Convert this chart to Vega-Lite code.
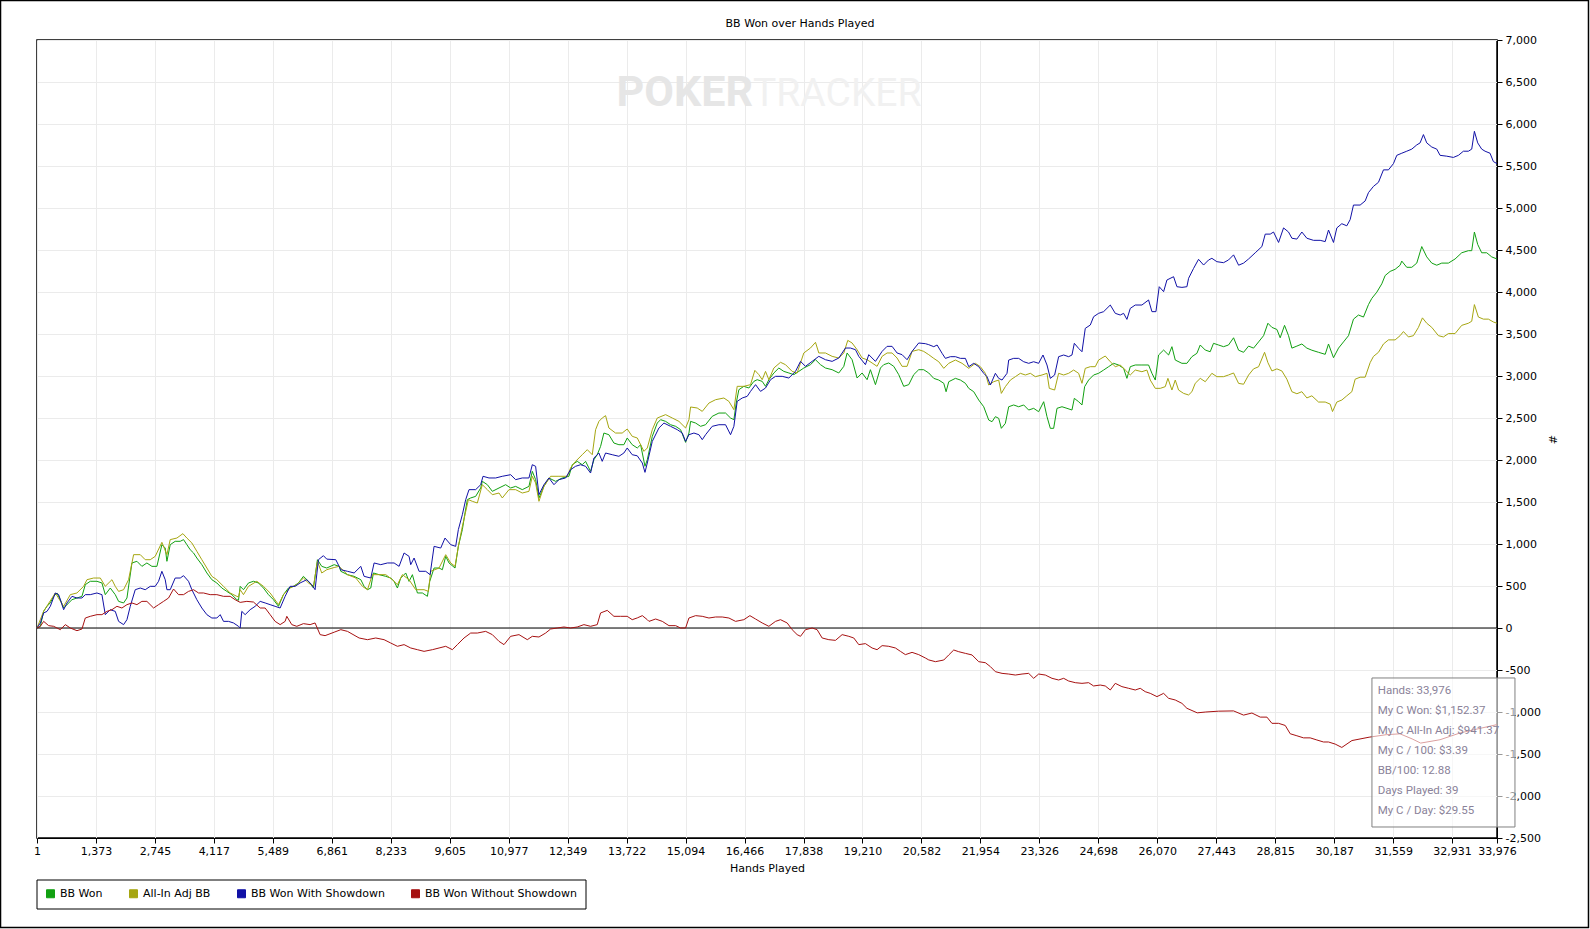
{
  "$schema": "https://vega.github.io/schema/vega-lite/v6.json",
  "width": 1460,
  "height": 798,
  "autosize": {"type": "none"},
  "padding": {"left": 37, "top": 40, "right": 93, "bottom": 91},
  "background": "white",
  "config": {
    "view": {"stroke": "black", "strokeWidth": 1.5},
    "axis": {"gridColor": "#ebebeb", "gridWidth": 1, "domainColor": "black", "tickColor": "black", "tickSize": 5, "labelFont": "DejaVu Sans", "labelFontSize": 11, "labelColor": "black", "titleFont": "DejaVu Sans", "titleFontSize": 11, "titleFontWeight": "normal", "titleColor": "black", "labelFlush": false, "labelOverlap": false}
  },
  "datasets": {
    "won": [
      {"hand":1,"bb":0},{"hand":79,"bb":20},{"hand":156,"bb":200},{"hand":234,"bb":258},{"hand":311,"bb":300},{"hand":389,"bb":377},{"hand":466,"bb":417},{"hand":544,"bb":337},{"hand":621,"bb":238},{"hand":699,"bb":278},{"hand":815,"bb":337},{"hand":931,"bb":357},{"hand":1047,"bb":377},{"hand":1125,"bb":516},{"hand":1241,"bb":556},{"hand":1396,"bb":556},{"hand":1512,"bb":536},{"hand":1590,"bb":397},{"hand":1706,"bb":476},{"hand":1822,"bb":397},{"hand":1900,"bb":317},{"hand":2016,"bb":298},{"hand":2094,"bb":357},{"hand":2210,"bb":774},{"hand":2326,"bb":794},{"hand":2442,"bb":734},{"hand":2558,"bb":774},{"hand":2675,"bb":734},{"hand":2791,"bb":734},{"hand":2907,"bb":992},{"hand":2985,"bb":952},{"hand":3024,"bb":794},{"hand":3101,"bb":992},{"hand":3217,"bb":1032},{"hand":3334,"bb":1032},{"hand":3411,"bb":1052},{"hand":3489,"bb":992},{"hand":3566,"bb":932},{"hand":3644,"bb":893},{"hand":3721,"bb":833},{"hand":3837,"bb":754},{"hand":3954,"bb":655},{"hand":4070,"bb":575},{"hand":4186,"bb":536},{"hand":4302,"bb":476},{"hand":4419,"bb":436},{"hand":4535,"bb":397},{"hand":4651,"bb":337},{"hand":4690,"bb":330},{"hand":4729,"bb":496},{"hand":4806,"bb":456},{"hand":4922,"bb":536},{"hand":5039,"bb":556},{"hand":5155,"bb":536},{"hand":5271,"bb":476},{"hand":5387,"bb":397},{"hand":5504,"bb":337},{"hand":5620,"bb":258},{"hand":5736,"bb":397},{"hand":5852,"bb":476},{"hand":5969,"bb":496},{"hand":6085,"bb":536},{"hand":6201,"bb":615},{"hand":6317,"bb":556},{"hand":6434,"bb":476},{"hand":6527,"bb":813},{"hand":6627,"bb":734},{"hand":6744,"bb":714},
      {"hand":6916,"bb":754},{"hand":7032,"bb":734},{"hand":7071,"bb":675},{"hand":7226,"bb":635},{"hand":7381,"bb":615},{"hand":7536,"bb":575},{"hand":7613,"bb":496},{"hand":7691,"bb":456},{"hand":7768,"bb":476},{"hand":7830,"bb":655},{"hand":7962,"bb":635},{"hand":8117,"bb":615},{"hand":8233,"bb":595},{"hand":8311,"bb":555},{"hand":8388,"bb":476},{"hand":8466,"bb":595},{"hand":8582,"bb":655},{"hand":8659,"bb":555},{"hand":8737,"bb":635},{"hand":8853,"bb":417},{"hand":8969,"bb":417},{"hand":9086,"bb":377},{"hand":9140,"bb":555},{"hand":9241,"bb":714},{"hand":9357,"bb":714},{"hand":9434,"bb":694},{"hand":9512,"bb":853},{"hand":9589,"bb":774},{"hand":9729,"bb":714},{"hand":9806,"bb":972},{"hand":9899,"bb":1171},{"hand":9961,"bb":1369},{"hand":10016,"bb":1528},{"hand":10093,"bb":1548},{"hand":10209,"bb":1567},{"hand":10326,"bb":1667},{"hand":10364,"bb":1746},{"hand":10481,"bb":1706},{"hand":10597,"bb":1627},{"hand":10752,"bb":1667},{"hand":10907,"bb":1706},{"hand":11023,"bb":1667},{"hand":11139,"bb":1686},{"hand":11294,"bb":1647},{"hand":11449,"bb":1686},{"hand":11527,"bb":1865},{"hand":11604,"bb":1766},{"hand":11682,"bb":1548},{"hand":11798,"bb":1686},{"hand":11914,"bb":1786},{"hand":12069,"bb":1746},{"hand":12224,"bb":1786},{"hand":12379,"bb":1806},{"hand":12457,"bb":1944},{"hand":12573,"bb":1984},{"hand":12689,"bb":1944},{"hand":12767,"bb":1984},{"hand":12883,"bb":1865},{"hand":12961,"bb":2004},{"hand":13038,"bb":2063},{"hand":13116,"bb":2162},{"hand":13193,"bb":2321},{"hand":13309,"bb":2301},{"hand":13426,"bb":2202},{"hand":13542,"bb":2182},{"hand":13658,"bb":2182},{"hand":13736,"bb":2262},{"hand":13852,"bb":2182},
      {"hand":13970,"bb":2143},{"hand":14048,"bb":2182},{"hand":14149,"bb":1925},{"hand":14203,"bb":2004},{"hand":14319,"bb":2282},{"hand":14435,"bb":2440},{"hand":14513,"bb":2480},{"hand":14629,"bb":2460},{"hand":14745,"bb":2420},{"hand":14862,"bb":2401},{"hand":14978,"bb":2361},{"hand":15094,"bb":2210},{"hand":15172,"bb":2321},{"hand":15210,"bb":2460},{"hand":15327,"bb":2440},{"hand":15443,"bb":2401},{"hand":15559,"bb":2420},{"hand":15714,"bb":2520},{"hand":15869,"bb":2559},{"hand":16024,"bb":2559},{"hand":16140,"bb":2500},{"hand":16218,"bb":2480},{"hand":16272,"bb":2678},{"hand":16334,"bb":2837},{"hand":16450,"bb":2877},{"hand":16567,"bb":2857},{"hand":16683,"bb":2936},{"hand":16760,"bb":2956},{"hand":16877,"bb":2936},{"hand":16954,"bb":2877},{"hand":17032,"bb":2956},{"hand":17148,"bb":3036},{"hand":17264,"bb":3095},{"hand":17380,"bb":3055},{"hand":17497,"bb":3036},{"hand":17613,"bb":3016},{"hand":17729,"bb":3055},{"hand":17845,"bb":3095},{"hand":18000,"bb":3135},{"hand":18117,"bb":3194},{"hand":18233,"bb":3135},{"hand":18349,"bb":3095},{"hand":18504,"bb":3075},{"hand":18659,"bb":3036},{"hand":18776,"bb":3115},{"hand":18853,"bb":3274},{"hand":18969,"bb":3194},{"hand":19085,"bb":2976},{"hand":19202,"bb":3036},{"hand":19318,"bb":2956},{"hand":19395,"bb":3075},{"hand":19512,"bb":2897},{"hand":19628,"bb":3095},{"hand":19705,"bb":3135},{"hand":19822,"bb":3155},{"hand":19938,"bb":3115},{"hand":20054,"bb":3016},{"hand":20170,"bb":2877},{"hand":20287,"bb":2897},{"hand":20403,"bb":3016},{"hand":20519,"bb":3075},{"hand":20635,"bb":3075},{"hand":20752,"bb":3036},
      {"hand":20869,"bb":2972},{"hand":20985,"bb":2952},{"hand":21102,"bb":2913},{"hand":21156,"bb":2813},{"hand":21218,"bb":2932},{"hand":21373,"bb":2972},{"hand":21489,"bb":2952},{"hand":21605,"bb":2913},{"hand":21683,"bb":2853},{"hand":21799,"bb":2813},{"hand":21915,"bb":2714},{"hand":22032,"bb":2634},{"hand":22148,"bb":2476},{"hand":22225,"bb":2456},{"hand":22303,"bb":2516},{"hand":22380,"bb":2496},{"hand":22442,"bb":2377},{"hand":22535,"bb":2436},{"hand":22613,"bb":2634},{"hand":22729,"bb":2655},{"hand":22845,"bb":2634},{"hand":22962,"bb":2655},{"hand":23078,"bb":2595},{"hand":23194,"bb":2615},{"hand":23310,"bb":2575},{"hand":23427,"bb":2694},{"hand":23504,"bb":2516},{"hand":23582,"bb":2377},{"hand":23659,"bb":2377},{"hand":23737,"bb":2615},{"hand":23853,"bb":2634},{"hand":23969,"bb":2615},{"hand":24085,"bb":2595},{"hand":24140,"bb":2734},{"hand":24240,"bb":2694},{"hand":24318,"bb":2655},{"hand":24380,"bb":2873},{"hand":24473,"bb":2952},{"hand":24589,"bb":3012},{"hand":24705,"bb":3032},{"hand":24822,"bb":3071},{"hand":24938,"bb":3111},{"hand":25054,"bb":3151},{"hand":25170,"bb":3131},{"hand":25287,"bb":3091},{"hand":25364,"bb":2972},{"hand":25442,"bb":3111},{"hand":25558,"bb":3131},{"hand":25713,"bb":3131},{"hand":25868,"bb":3131},{"hand":25946,"bb":3032},{"hand":26024,"bb":2952},{"hand":26101,"bb":3250},{"hand":26218,"bb":3309},{"hand":26334,"bb":3250},{"hand":26411,"bb":3349},{"hand":26489,"bb":3190},{"hand":26644,"bb":3151},{"hand":26760,"bb":3151},{"hand":26876,"bb":3230},{"hand":26993,"bb":3270},{"hand":27070,"bb":3369},{"hand":27187,"bb":3309},{"hand":27302,"bb":3289},{"hand":27379,"bb":3389},{"hand":27496,"bb":3369},{"hand":27612,"bb":3349},{"hand":27728,"bb":3369},
      {"hand":27846,"bb":3455},{"hand":27963,"bb":3307},{"hand":28079,"bb":3282},{"hand":28195,"bb":3356},{"hand":28311,"bb":3332},{"hand":28428,"bb":3406},{"hand":28544,"bb":3480},{"hand":28645,"bb":3628},{"hand":28738,"bb":3579},{"hand":28854,"bb":3554},{"hand":28931,"bb":3455},{"hand":29032,"bb":3603},{"hand":29125,"bb":3480},{"hand":29203,"bb":3332},{"hand":29319,"bb":3356},{"hand":29435,"bb":3381},{"hand":29551,"bb":3332},{"hand":29668,"bb":3307},{"hand":29823,"bb":3282},{"hand":29978,"bb":3258},{"hand":30055,"bb":3381},{"hand":30171,"bb":3218},{"hand":30288,"bb":3332},{"hand":30404,"bb":3406},{"hand":30520,"bb":3480},{"hand":30636,"bb":3677},{"hand":30753,"bb":3726},{"hand":30869,"bb":3702},{"hand":30985,"bb":3850},{"hand":31063,"bb":3924},{"hand":31179,"bb":3998},{"hand":31295,"bb":4097},{"hand":31373,"bb":4196},{"hand":31489,"bb":4245},{"hand":31605,"bb":4270},{"hand":31721,"bb":4319},{"hand":31760,"bb":4368},{"hand":31876,"bb":4294},{"hand":31993,"bb":4294},{"hand":32109,"bb":4344},{"hand":32225,"bb":4541},{"hand":32341,"bb":4418},{"hand":32458,"bb":4344},{"hand":32574,"bb":4319},{"hand":32690,"bb":4344},{"hand":32845,"bb":4344},{"hand":33000,"bb":4393},{"hand":33155,"bb":4467},{"hand":33310,"bb":4492},{"hand":33388,"bb":4492},{"hand":33450,"bb":4714},{"hand":33527,"bb":4566},{"hand":33620,"bb":4467},{"hand":33737,"bb":4467},{"hand":33853,"bb":4418},{"hand":33976,"bb":4393}
    ],
    "adj": [
      {"hand":1,"bb":0},{"hand":156,"bb":200},{"hand":427,"bb":417},{"hand":621,"bb":258},{"hand":776,"bb":397},{"hand":931,"bb":417},{"hand":1086,"bb":496},{"hand":1164,"bb":575},{"hand":1319,"bb":595},{"hand":1474,"bb":595},{"hand":1590,"bb":496},{"hand":1745,"bb":575},{"hand":1822,"bb":496},{"hand":1900,"bb":436},{"hand":2016,"bb":456},{"hand":2132,"bb":575},{"hand":2249,"bb":873},{"hand":2404,"bb":873},{"hand":2520,"bb":813},{"hand":2636,"bb":813},{"hand":2752,"bb":853},{"hand":2907,"bb":1020},{"hand":3024,"bb":873},{"hand":3101,"bb":1052},{"hand":3256,"bb":1071},{"hand":3396,"bb":1123},{"hand":3489,"bb":1071},{"hand":3605,"bb":1012},{"hand":3721,"bb":913},{"hand":3837,"bb":813},{"hand":3954,"bb":714},{"hand":4070,"bb":615},{"hand":4186,"bb":575},{"hand":4341,"bb":496},{"hand":4496,"bb":417},{"hand":4651,"bb":377},{"hand":4690,"bb":370},{"hand":4729,"bb":456},{"hand":4806,"bb":397},{"hand":4922,"bb":496},{"hand":5116,"bb":556},{"hand":5271,"bb":496},{"hand":5426,"bb":417},{"hand":5620,"bb":278},{"hand":5736,"bb":397},{"hand":5891,"bb":476},{"hand":6046,"bb":516},{"hand":6201,"bb":595},{"hand":6317,"bb":536},{"hand":6434,"bb":496},{"hand":6527,"bb":794},{"hand":6627,"bb":655},{"hand":6744,"bb":694},
      {"hand":6916,"bb":720},{"hand":7032,"bb":734},{"hand":7226,"bb":635},{"hand":7420,"bb":595},{"hand":7574,"bb":496},{"hand":7691,"bb":456},{"hand":7807,"bb":635},{"hand":7962,"bb":635},{"hand":8117,"bb":635},{"hand":8272,"bb":575},{"hand":8388,"bb":516},{"hand":8504,"bb":635},{"hand":8659,"bb":575},{"hand":8814,"bb":456},{"hand":9008,"bb":456},{"hand":9109,"bb":436},{"hand":9163,"bb":675},{"hand":9357,"bb":714},{"hand":9512,"bb":873},{"hand":9628,"bb":774},{"hand":9729,"bb":734},{"hand":9806,"bb":972},{"hand":9899,"bb":1210},{"hand":9961,"bb":1349},{"hand":10039,"bb":1528},{"hand":10132,"bb":1508},{"hand":10248,"bb":1488},{"hand":10364,"bb":1706},{"hand":10481,"bb":1647},{"hand":10597,"bb":1587},{"hand":10752,"bb":1607},{"hand":10829,"bb":1548},{"hand":10984,"bb":1647},{"hand":11139,"bb":1647},{"hand":11294,"bb":1607},{"hand":11449,"bb":1627},{"hand":11527,"bb":1806},{"hand":11604,"bb":1726},{"hand":11682,"bb":1508},{"hand":11798,"bb":1686},{"hand":11953,"bb":1806},{"hand":12147,"bb":1806},{"hand":12341,"bb":1806},{"hand":12418,"bb":1905},{"hand":12534,"bb":1984},{"hand":12689,"bb":2063},{"hand":12806,"bb":2123},{"hand":12922,"bb":2063},{"hand":13000,"bb":2361},{"hand":13077,"bb":2460},{"hand":13154,"bb":2500},{"hand":13232,"bb":2528},{"hand":13309,"bb":2381},{"hand":13464,"bb":2321},{"hand":13619,"bb":2321},{"hand":13736,"bb":2369},{"hand":13852,"bb":2282},
      {"hand":13970,"bb":2262},{"hand":14125,"bb":2103},{"hand":14203,"bb":2143},{"hand":14319,"bb":2361},{"hand":14435,"bb":2500},{"hand":14629,"bb":2540},{"hand":14784,"bb":2500},{"hand":14939,"bb":2460},{"hand":15094,"bb":2381},{"hand":15172,"bb":2480},{"hand":15210,"bb":2631},{"hand":15365,"bb":2619},{"hand":15482,"bb":2579},{"hand":15637,"bb":2678},{"hand":15792,"bb":2718},{"hand":15985,"bb":2738},{"hand":16102,"bb":2698},{"hand":16218,"bb":2599},{"hand":16295,"bb":2877},{"hand":16450,"bb":2877},{"hand":16605,"bb":2897},{"hand":16706,"bb":3067},{"hand":16799,"bb":3016},{"hand":16877,"bb":2956},{"hand":16954,"bb":3055},{"hand":17032,"bb":2956},{"hand":17148,"bb":3095},{"hand":17303,"bb":3163},{"hand":17419,"bb":3135},{"hand":17574,"bb":3055},{"hand":17690,"bb":3036},{"hand":17845,"bb":3274},{"hand":18000,"bb":3333},{"hand":18117,"bb":3401},{"hand":18194,"bb":3274},{"hand":18349,"bb":3274},{"hand":18504,"bb":3234},{"hand":18659,"bb":3214},{"hand":18776,"bb":3274},{"hand":18868,"bb":3424},{"hand":18969,"bb":3393},{"hand":19085,"bb":3313},{"hand":19202,"bb":3214},{"hand":19318,"bb":3194},{"hand":19434,"bb":3155},{"hand":19550,"bb":3115},{"hand":19667,"bb":3234},{"hand":19783,"bb":3274},{"hand":19899,"bb":3274},{"hand":20015,"bb":3214},{"hand":20132,"bb":3115},{"hand":20248,"bb":3115},{"hand":20364,"bb":3293},{"hand":20519,"bb":3313},{"hand":20635,"bb":3293},{"hand":20752,"bb":3254},
      {"hand":20869,"bb":3210},{"hand":20985,"bb":3170},{"hand":21102,"bb":3091},{"hand":21218,"bb":3151},{"hand":21373,"bb":3190},{"hand":21528,"bb":3151},{"hand":21683,"bb":3091},{"hand":21838,"bb":3151},{"hand":21954,"bb":3111},{"hand":22070,"bb":3032},{"hand":22148,"bb":2893},{"hand":22264,"bb":2932},{"hand":22380,"bb":2952},{"hand":22442,"bb":2793},{"hand":22535,"bb":2873},{"hand":22652,"bb":2952},{"hand":22768,"bb":2992},{"hand":22884,"bb":3032},{"hand":23001,"bb":3012},{"hand":23117,"bb":3032},{"hand":23233,"bb":2992},{"hand":23388,"bb":3012},{"hand":23504,"bb":3032},{"hand":23558,"bb":2853},{"hand":23682,"bb":2833},{"hand":23775,"bb":3032},{"hand":23892,"bb":3012},{"hand":24008,"bb":3032},{"hand":24124,"bb":3071},{"hand":24240,"bb":3032},{"hand":24318,"bb":2913},{"hand":24395,"bb":3091},{"hand":24512,"bb":3111},{"hand":24628,"bb":3111},{"hand":24705,"bb":3190},{"hand":24860,"bb":3238},{"hand":24977,"bb":3170},{"hand":25093,"bb":3111},{"hand":25209,"bb":3131},{"hand":25326,"bb":3071},{"hand":25442,"bb":3012},{"hand":25558,"bb":3071},{"hand":25713,"bb":3051},{"hand":25829,"bb":3071},{"hand":25907,"bb":2952},{"hand":26024,"bb":2853},{"hand":26140,"bb":2853},{"hand":26256,"bb":2873},{"hand":26318,"bb":2972},{"hand":26411,"bb":2833},{"hand":26489,"bb":2952},{"hand":26566,"bb":2833},{"hand":26683,"bb":2793},{"hand":26799,"bb":2774},{"hand":26876,"bb":2813},{"hand":26954,"bb":2913},{"hand":27070,"bb":2972},{"hand":27187,"bb":2932},{"hand":27341,"bb":3032},{"hand":27457,"bb":2992},{"hand":27612,"bb":2992},{"hand":27728,"bb":3012},
      {"hand":27846,"bb":3036},{"hand":27963,"bb":2912},{"hand":28079,"bb":2902},{"hand":28195,"bb":3011},{"hand":28311,"bb":3085},{"hand":28428,"bb":3110},{"hand":28567,"bb":3282},{"hand":28645,"bb":3159},{"hand":28738,"bb":3060},{"hand":28854,"bb":3085},{"hand":28970,"bb":3060},{"hand":29086,"bb":2962},{"hand":29203,"bb":2813},{"hand":29319,"bb":2789},{"hand":29435,"bb":2813},{"hand":29551,"bb":2739},{"hand":29668,"bb":2764},{"hand":29823,"bb":2690},{"hand":29978,"bb":2690},{"hand":30094,"bb":2665},{"hand":30148,"bb":2577},{"hand":30249,"bb":2690},{"hand":30365,"bb":2714},{"hand":30481,"bb":2764},{"hand":30598,"bb":2813},{"hand":30675,"bb":2962},{"hand":30791,"bb":2986},{"hand":30908,"bb":2986},{"hand":31024,"bb":3159},{"hand":31101,"bb":3233},{"hand":31218,"bb":3282},{"hand":31334,"bb":3381},{"hand":31450,"bb":3430},{"hand":31605,"bb":3430},{"hand":31721,"bb":3480},{"hand":31799,"bb":3529},{"hand":31915,"bb":3465},{"hand":32031,"bb":3480},{"hand":32148,"bb":3579},{"hand":32241,"bb":3692},{"hand":32341,"bb":3628},{"hand":32458,"bb":3579},{"hand":32613,"bb":3480},{"hand":32729,"bb":3465},{"hand":32845,"bb":3505},{"hand":33000,"bb":3505},{"hand":33155,"bb":3603},{"hand":33310,"bb":3628},{"hand":33388,"bb":3652},{"hand":33450,"bb":3850},{"hand":33543,"bb":3702},{"hand":33659,"bb":3677},{"hand":33776,"bb":3677},{"hand":33892,"bb":3643},{"hand":33976,"bb":3628}
    ],
    "sd": [
      {"hand":1,"bb":0},{"hand":79,"bb":60},{"hand":156,"bb":179},{"hand":234,"bb":198},{"hand":311,"bb":258},{"hand":427,"bb":417},{"hand":505,"bb":397},{"hand":621,"bb":218},{"hand":699,"bb":298},{"hand":815,"bb":377},{"hand":931,"bb":357},{"hand":1047,"bb":357},{"hand":1125,"bb":397},{"hand":1241,"bb":397},{"hand":1396,"bb":417},{"hand":1512,"bb":397},{"hand":1590,"bb":159},{"hand":1706,"bb":218},{"hand":1822,"bb":198},{"hand":1900,"bb":79},{"hand":2016,"bb":40},{"hand":2094,"bb":99},{"hand":2171,"bb":258},{"hand":2287,"bb":456},{"hand":2404,"bb":476},{"hand":2520,"bb":456},{"hand":2636,"bb":496},{"hand":2752,"bb":496},{"hand":2830,"bb":556},{"hand":2907,"bb":675},{"hand":2985,"bb":575},{"hand":3024,"bb":456},{"hand":3101,"bb":456},{"hand":3217,"bb":595},{"hand":3334,"bb":595},{"hand":3411,"bb":623},{"hand":3527,"bb":556},{"hand":3605,"bb":456},{"hand":3721,"bb":337},{"hand":3837,"bb":238},{"hand":3954,"bb":159},{"hand":4070,"bb":119},{"hand":4186,"bb":119},{"hand":4264,"bb":159},{"hand":4341,"bb":79},{"hand":4457,"bb":79},{"hand":4574,"bb":60},{"hand":4690,"bb":20},{"hand":4729,"bb":0},{"hand":4767,"bb":198},{"hand":4845,"bb":159},{"hand":4961,"bb":218},{"hand":5077,"bb":258},{"hand":5194,"bb":317},{"hand":5310,"bb":298},{"hand":5426,"bb":278},{"hand":5542,"bb":258},{"hand":5659,"bb":238},{"hand":5775,"bb":377},{"hand":5891,"bb":496},{"hand":6007,"bb":496},{"hand":6124,"bb":536},{"hand":6279,"bb":575},{"hand":6395,"bb":516},{"hand":6472,"bb":456},{"hand":6550,"bb":813},{"hand":6666,"bb":861},{"hand":6744,"bb":820},
      {"hand":6954,"bb":813},{"hand":7071,"bb":694},{"hand":7226,"bb":675},{"hand":7381,"bb":655},{"hand":7536,"bb":734},{"hand":7613,"bb":615},{"hand":7768,"bb":595},{"hand":7846,"bb":774},{"hand":8000,"bb":754},{"hand":8156,"bb":774},{"hand":8311,"bb":774},{"hand":8427,"bb":734},{"hand":8543,"bb":893},{"hand":8659,"bb":853},{"hand":8698,"bb":754},{"hand":8776,"bb":833},{"hand":8892,"bb":675},{"hand":9047,"bb":675},{"hand":9148,"bb":635},{"hand":9241,"bb":972},{"hand":9396,"bb":952},{"hand":9496,"bb":1071},{"hand":9628,"bb":992},{"hand":9744,"bb":972},{"hand":9806,"bb":1171},{"hand":9899,"bb":1349},{"hand":9977,"bb":1528},{"hand":10054,"bb":1647},{"hand":10209,"bb":1647},{"hand":10326,"bb":1706},{"hand":10380,"bb":1806},{"hand":10519,"bb":1786},{"hand":10674,"bb":1786},{"hand":10829,"bb":1806},{"hand":11023,"bb":1825},{"hand":11139,"bb":1766},{"hand":11294,"bb":1786},{"hand":11449,"bb":1786},{"hand":11527,"bb":1944},{"hand":11604,"bb":1925},{"hand":11682,"bb":1587},{"hand":11798,"bb":1706},{"hand":11914,"bb":1786},{"hand":12031,"bb":1706},{"hand":12147,"bb":1766},{"hand":12302,"bb":1786},{"hand":12418,"bb":1885},{"hand":12534,"bb":1925},{"hand":12651,"bb":1944},{"hand":12767,"bb":1925},{"hand":12883,"bb":1845},{"hand":12961,"bb":2024},{"hand":13077,"bb":2083},{"hand":13154,"bb":1984},{"hand":13232,"bb":2083},{"hand":13387,"bb":2063},{"hand":13542,"bb":2044},{"hand":13658,"bb":2083},{"hand":13736,"bb":2143},{"hand":13852,"bb":2063},
      {"hand":13970,"bb":2050},{"hand":14087,"bb":1964},{"hand":14149,"bb":1853},{"hand":14203,"bb":1964},{"hand":14319,"bb":2222},{"hand":14474,"bb":2381},{"hand":14590,"bb":2440},{"hand":14745,"bb":2401},{"hand":14900,"bb":2361},{"hand":15017,"bb":2321},{"hand":15094,"bb":2222},{"hand":15172,"bb":2301},{"hand":15288,"bb":2321},{"hand":15404,"bb":2301},{"hand":15482,"bb":2242},{"hand":15559,"bb":2301},{"hand":15714,"bb":2401},{"hand":15869,"bb":2420},{"hand":16024,"bb":2420},{"hand":16140,"bb":2301},{"hand":16218,"bb":2401},{"hand":16295,"bb":2698},{"hand":16412,"bb":2738},{"hand":16528,"bb":2758},{"hand":16605,"bb":2817},{"hand":16722,"bb":2897},{"hand":16838,"bb":2817},{"hand":16954,"bb":2857},{"hand":17071,"bb":2956},{"hand":17187,"bb":2996},{"hand":17342,"bb":2996},{"hand":17497,"bb":2976},{"hand":17652,"bb":3055},{"hand":17768,"bb":3174},{"hand":17884,"bb":3115},{"hand":18039,"bb":3174},{"hand":18194,"bb":3234},{"hand":18349,"bb":3194},{"hand":18504,"bb":3174},{"hand":18659,"bb":3214},{"hand":18814,"bb":3333},{"hand":18930,"bb":3333},{"hand":19047,"bb":3313},{"hand":19124,"bb":3234},{"hand":19279,"bb":3135},{"hand":19357,"bb":3254},{"hand":19512,"bb":3174},{"hand":19667,"bb":3293},{"hand":19783,"bb":3353},{"hand":19899,"bb":3353},{"hand":20015,"bb":3274},{"hand":20132,"bb":3254},{"hand":20248,"bb":3194},{"hand":20364,"bb":3293},{"hand":20519,"bb":3393},{"hand":20674,"bb":3385},{"hand":20752,"bb":3373},
      {"hand":20869,"bb":3349},{"hand":20947,"bb":3369},{"hand":21063,"bb":3270},{"hand":21140,"bb":3210},{"hand":21256,"bb":3230},{"hand":21373,"bb":3230},{"hand":21489,"bb":3210},{"hand":21605,"bb":3210},{"hand":21683,"bb":3111},{"hand":21799,"bb":3151},{"hand":21915,"bb":3111},{"hand":22032,"bb":3032},{"hand":22109,"bb":2992},{"hand":22187,"bb":2893},{"hand":22303,"bb":3032},{"hand":22380,"bb":2972},{"hand":22458,"bb":2952},{"hand":22574,"bb":3032},{"hand":22613,"bb":3190},{"hand":22729,"bb":3210},{"hand":22845,"bb":3210},{"hand":22962,"bb":3170},{"hand":23078,"bb":3151},{"hand":23194,"bb":3170},{"hand":23310,"bb":3151},{"hand":23411,"bb":3250},{"hand":23504,"bb":3131},{"hand":23582,"bb":2972},{"hand":23682,"bb":3012},{"hand":23775,"bb":3230},{"hand":23892,"bb":3250},{"hand":24008,"bb":3230},{"hand":24085,"bb":3250},{"hand":24140,"bb":3389},{"hand":24240,"bb":3329},{"hand":24318,"bb":3289},{"hand":24395,"bb":3567},{"hand":24512,"bb":3607},{"hand":24589,"bb":3706},{"hand":24705,"bb":3746},{"hand":24822,"bb":3766},{"hand":24977,"bb":3845},{"hand":25093,"bb":3746},{"hand":25209,"bb":3726},{"hand":25287,"bb":3746},{"hand":25364,"bb":3674},{"hand":25442,"bb":3805},{"hand":25558,"bb":3845},{"hand":25713,"bb":3845},{"hand":25868,"bb":3905},{"hand":25946,"bb":3766},{"hand":26039,"bb":3766},{"hand":26116,"bb":4063},{"hand":26218,"bb":4004},{"hand":26295,"bb":4143},{"hand":26450,"bb":4182},{"hand":26528,"bb":4063},{"hand":26644,"bb":4055},{"hand":26760,"bb":4063},{"hand":26799,"bb":4163},{"hand":26915,"bb":4281},{"hand":27031,"bb":4389},{"hand":27148,"bb":4321},{"hand":27264,"bb":4381},{"hand":27341,"bb":4401},{"hand":27457,"bb":4361},{"hand":27612,"bb":4349},{"hand":27728,"bb":4381},
      {"hand":27846,"bb":4442},{"hand":27963,"bb":4319},{"hand":28079,"bb":4344},{"hand":28195,"bb":4393},{"hand":28350,"bb":4467},{"hand":28505,"bb":4541},{"hand":28583,"bb":4689},{"hand":28699,"bb":4689},{"hand":28776,"bb":4714},{"hand":28893,"bb":4590},{"hand":29009,"bb":4763},{"hand":29125,"bb":4714},{"hand":29203,"bb":4640},{"hand":29319,"bb":4630},{"hand":29435,"bb":4714},{"hand":29551,"bb":4640},{"hand":29706,"bb":4615},{"hand":29861,"bb":4615},{"hand":29978,"bb":4600},{"hand":30055,"bb":4738},{"hand":30171,"bb":4590},{"hand":30249,"bb":4763},{"hand":30365,"bb":4813},{"hand":30481,"bb":4788},{"hand":30559,"bb":4862},{"hand":30636,"bb":5035},{"hand":30791,"bb":5035},{"hand":30908,"bb":5084},{"hand":30985,"bb":5183},{"hand":31101,"bb":5257},{"hand":31218,"bb":5306},{"hand":31334,"bb":5454},{"hand":31450,"bb":5454},{"hand":31566,"bb":5528},{"hand":31644,"bb":5627},{"hand":31760,"bb":5652},{"hand":31876,"bb":5676},{"hand":31993,"bb":5701},{"hand":32109,"bb":5751},{"hand":32186,"bb":5775},{"hand":32264,"bb":5874},{"hand":32341,"bb":5775},{"hand":32458,"bb":5726},{"hand":32574,"bb":5701},{"hand":32651,"bb":5627},{"hand":32806,"bb":5617},{"hand":32961,"bb":5602},{"hand":33078,"bb":5627},{"hand":33194,"bb":5676},{"hand":33310,"bb":5676},{"hand":33388,"bb":5701},{"hand":33450,"bb":5913},{"hand":33527,"bb":5775},{"hand":33620,"bb":5701},{"hand":33698,"bb":5676},{"hand":33814,"bb":5652},{"hand":33892,"bb":5553},{"hand":33976,"bb":5528}
    ],
    "nsd": [
      {"hand":1,"bb":0},{"hand":79,"bb":20},{"hand":156,"bb":79},{"hand":272,"bb":28},{"hand":389,"bb":20},{"hand":544,"bb":-20},{"hand":660,"bb":40},{"hand":776,"bb":0},{"hand":931,"bb":-32},{"hand":1047,"bb":-12},{"hand":1125,"bb":119},{"hand":1241,"bb":139},{"hand":1396,"bb":159},{"hand":1512,"bb":159},{"hand":1629,"bb":198},{"hand":1745,"bb":218},{"hand":1861,"bb":258},{"hand":1977,"bb":238},{"hand":2094,"bb":278},{"hand":2210,"bb":298},{"hand":2326,"bb":278},{"hand":2442,"bb":317},{"hand":2558,"bb":317},{"hand":2714,"bb":238},{"hand":2830,"bb":278},{"hand":2946,"bb":317},{"hand":3062,"bb":357},{"hand":3179,"bb":464},{"hand":3295,"bb":397},{"hand":3411,"bb":397},{"hand":3527,"bb":436},{"hand":3644,"bb":456},{"hand":3760,"bb":417},{"hand":3876,"bb":417},{"hand":4031,"bb":397},{"hand":4186,"bb":397},{"hand":4341,"bb":377},{"hand":4496,"bb":377},{"hand":4612,"bb":337},{"hand":4729,"bb":305},{"hand":4884,"bb":317},{"hand":5039,"bb":309},{"hand":5194,"bb":238},{"hand":5310,"bb":238},{"hand":5426,"bb":159},{"hand":5542,"bb":79},{"hand":5659,"bb":40},{"hand":5775,"bb":79},{"hand":5814,"bb":139},{"hand":5930,"bb":40},{"hand":6046,"bb":20},{"hand":6201,"bb":52},{"hand":6356,"bb":40},{"hand":6472,"bb":60},{"hand":6589,"bb":-79},{"hand":6705,"bb":-91},
      {"hand":6916,"bb":-50},{"hand":7071,"bb":-20},{"hand":7226,"bb":-40},{"hand":7497,"bb":-119},{"hand":7691,"bb":-139},{"hand":7884,"bb":-119},{"hand":8078,"bb":-139},{"hand":8233,"bb":-179},{"hand":8388,"bb":-218},{"hand":8543,"bb":-198},{"hand":8698,"bb":-238},{"hand":8853,"bb":-258},{"hand":9008,"bb":-278},{"hand":9202,"bb":-258},{"hand":9357,"bb":-238},{"hand":9512,"bb":-218},{"hand":9667,"bb":-258},{"hand":9783,"bb":-198},{"hand":9938,"bb":-119},{"hand":10093,"bb":-60},{"hand":10248,"bb":-60},{"hand":10442,"bb":-40},{"hand":10597,"bb":-79},{"hand":10752,"bb":-159},{"hand":10868,"bb":-198},{"hand":11023,"bb":-99},{"hand":11217,"bb":-79},{"hand":11411,"bb":-139},{"hand":11527,"bb":-99},{"hand":11682,"bb":-107},{"hand":11837,"bb":-60},{"hand":11953,"bb":-12},{"hand":12108,"bb":0},{"hand":12263,"bb":12},{"hand":12418,"bb":0},{"hand":12573,"bb":12},{"hand":12728,"bb":40},{"hand":12883,"bb":20},{"hand":13038,"bb":40},{"hand":13116,"bb":179},{"hand":13271,"bb":210},{"hand":13426,"bb":139},{"hand":13581,"bb":139},{"hand":13736,"bb":139},{"hand":13852,"bb":99},
      {"hand":13970,"bb":120},{"hand":14087,"bb":147},{"hand":14203,"bb":99},{"hand":14242,"bb":79},{"hand":14397,"bb":107},{"hand":14552,"bb":79},{"hand":14707,"bb":28},{"hand":14862,"bb":28},{"hand":14978,"bb":0},{"hand":15094,"bb":0},{"hand":15172,"bb":119},{"hand":15327,"bb":147},{"hand":15482,"bb":139},{"hand":15637,"bb":119},{"hand":15792,"bb":131},{"hand":15947,"bb":131},{"hand":16102,"bb":119},{"hand":16257,"bb":79},{"hand":16450,"bb":99},{"hand":16590,"bb":147},{"hand":16722,"bb":107},{"hand":16877,"bb":60},{"hand":17032,"bb":20},{"hand":17187,"bb":79},{"hand":17303,"bb":99},{"hand":17458,"bb":60},{"hand":17574,"bb":-20},{"hand":17690,"bb":-79},{"hand":17768,"bb":-99},{"hand":17884,"bb":-20},{"hand":18039,"bb":0},{"hand":18155,"bb":-20},{"hand":18272,"bb":-119},{"hand":18427,"bb":-139},{"hand":18582,"bb":-147},{"hand":18737,"bb":-79},{"hand":18892,"bb":-99},{"hand":19008,"bb":-119},{"hand":19124,"bb":-198},{"hand":19279,"bb":-186},{"hand":19434,"bb":-238},{"hand":19550,"bb":-258},{"hand":19667,"bb":-210},{"hand":19822,"bb":-218},{"hand":19977,"bb":-238},{"hand":20093,"bb":-278},{"hand":20209,"bb":-317},{"hand":20364,"bb":-290},{"hand":20519,"bb":-317},{"hand":20674,"bb":-357},{"hand":20752,"bb":-380},
      {"hand":20908,"bb":-401},{"hand":21102,"bb":-381},{"hand":21218,"bb":-321},{"hand":21334,"bb":-262},{"hand":21450,"bb":-282},{"hand":21605,"bb":-302},{"hand":21760,"bb":-321},{"hand":21915,"bb":-401},{"hand":22070,"bb":-413},{"hand":22187,"bb":-460},{"hand":22303,"bb":-520},{"hand":22458,"bb":-540},{"hand":22613,"bb":-548},{"hand":22768,"bb":-560},{"hand":22923,"bb":-548},{"hand":23078,"bb":-540},{"hand":23194,"bb":-599},{"hand":23310,"bb":-548},{"hand":23465,"bb":-560},{"hand":23620,"bb":-599},{"hand":23775,"bb":-619},{"hand":23892,"bb":-599},{"hand":24008,"bb":-631},{"hand":24163,"bb":-651},{"hand":24318,"bb":-659},{"hand":24473,"bb":-651},{"hand":24589,"bb":-690},{"hand":24744,"bb":-679},{"hand":24860,"bb":-690},{"hand":24977,"bb":-738},{"hand":25093,"bb":-659},{"hand":25248,"bb":-698},{"hand":25403,"bb":-718},{"hand":25558,"bb":-738},{"hand":25674,"bb":-718},{"hand":25790,"bb":-758},{"hand":25907,"bb":-778},{"hand":26063,"bb":-817},{"hand":26218,"bb":-778},{"hand":26334,"bb":-837},{"hand":26489,"bb":-857},{"hand":26644,"bb":-897},{"hand":26760,"bb":-956},{"hand":27000,"bb":-1010},{"hand":27200,"bb":-1000},{"hand":27500,"bb":-990},
      {"hand":27846,"bb":-987},{"hand":28079,"bb":-1037},{"hand":28273,"bb":-1012},{"hand":28467,"bb":-1061},{"hand":28622,"bb":-1061},{"hand":28738,"bb":-1135},{"hand":28893,"bb":-1135},{"hand":29048,"bb":-1160},{"hand":29164,"bb":-1259},{"hand":29319,"bb":-1283},{"hand":29474,"bb":-1308},{"hand":29629,"bb":-1308},{"hand":29784,"bb":-1333},{"hand":29939,"bb":-1357},{"hand":30055,"bb":-1357},{"hand":30210,"bb":-1382},{"hand":30365,"bb":-1422},{"hand":30600,"bb":-1340},{"hand":31000,"bb":-1300},{"hand":31400,"bb":-1270},{"hand":31718,"bb":-1260},{"hand":32000,"bb":-1320},{"hand":32200,"bb":-1370},{"hand":32650,"bb":-1330},{"hand":33114,"bb":-1250},{"hand":33450,"bb":-1210},{"hand":33976,"bb":-1150}
    ]
  },
  "layer": [
    {
      "data": {"name": "won"},
      "mark": {"type": "line", "strokeWidth": 1},
      "encoding": {
        "x": {"field": "hand", "type": "quantitative", "scale": {"domain": [1, 33976], "nice": false, "zero": false},
              "axis": {"values": [1,1373,2745,4117,5489,6861,8233,9605,10977,12349,13722,15094,16466,17838,19210,20582,21954,23326,24698,26070,27443,28815,30187,31559,32931,33976], "labelExpr": "format(datum.value, ',')", "grid": true, "title": "Hands Played", "titleY": 24, "labelPadding": 2}},
        "y": {"field": "bb", "type": "quantitative", "scale": {"domain": [-2500, 7000], "nice": false, "zero": false},
              "axis": {"orient": "right", "values": [-2500,-2000,-1500,-1000,-500,0,500,1000,1500,2000,2500,3000,3500,4000,4500,5000,5500,6000,6500,7000], "labelExpr": "replace(format(datum.value, ','), '\u2212', '-')", "grid": true, "title": "#", "titleX": 49, "titleY": 399, "labelPadding": 3}},
        "color": {"datum": "BB Won", "type": "nominal",
                  "scale": {"domain": ["BB Won", "All-In Adj BB", "BB Won With Showdown", "BB Won Without Showdown"], "range": ["#11a011", "#a6a611", "#1111a6", "#a61111"]},
                  "legend": {"orient": "none", "legendX": -0.5, "legendY": 839.5, "direction": "horizontal", "columns": 4, "title": null, "symbolType": "square", "symbolSize": 64, "symbolStrokeWidth": 1, "labelFont": "DejaVu Sans", "labelFontSize": 11, "labelColor": "black", "labelOffset": 4, "columnPadding": 24, "padding": 8.5, "strokeColor": "black", "fillColor": "white", "cornerRadius": 0,
                             "encode": {"symbols": {"update": {"fill": {"scale": "color", "field": "value"}, "stroke": {"value": "black"}, "strokeWidth": {"value": 1}, "opacity": {"value": 1}}}}}}
      }
    },
    {
      "data": {"values": [{"word": "POKER"}]},
      "mark": {"type": "text", "align": "right", "baseline": "alphabetic", "font": "Roboto", "fontSize": 43, "fontWeight": "bold", "color": "#e6e6e6", "clip": false},
      "encoding": {"x": {"datum": 16662, "type": "quantitative"}, "y": {"datum": 6214, "type": "quantitative"}, "text": {"field": "word"}}
    },
    {
      "data": {"values": [{"word": "TRACKER"}]},
      "mark": {"type": "text", "align": "left", "baseline": "alphabetic", "font": "Roboto", "fontSize": 39, "fontWeight": "normal", "color": "#f1f1f1", "clip": false},
      "encoding": {"x": {"datum": 16662, "type": "quantitative"}, "y": {"datum": 6214, "type": "quantitative"}, "text": {"field": "word"}}
    },
    {
      "data": {"values": [{"level": 0}]},
      "mark": {"type": "rule", "color": "black", "strokeWidth": 1},
      "encoding": {"y": {"field": "level", "type": "quantitative"}}
    },
    {
      "data": {"name": "adj"},
      "mark": {"type": "line", "strokeWidth": 1},
      "encoding": {"x": {"field": "hand", "type": "quantitative"}, "y": {"field": "bb", "type": "quantitative"}, "color": {"datum": "All-In Adj BB", "type": "nominal"}}
    },
    {
      "data": {"name": "sd"},
      "mark": {"type": "line", "strokeWidth": 1},
      "encoding": {"x": {"field": "hand", "type": "quantitative"}, "y": {"field": "bb", "type": "quantitative"}, "color": {"datum": "BB Won With Showdown", "type": "nominal"}}
    },
    {
      "data": {"name": "nsd"},
      "mark": {"type": "line", "strokeWidth": 1},
      "encoding": {"x": {"field": "hand", "type": "quantitative"}, "y": {"field": "bb", "type": "quantitative"}, "color": {"datum": "BB Won Without Showdown", "type": "nominal"}}
    },
    {
      "data": {"values": [{"box": "tooltip"}]},
      "mark": {"type": "rect", "fill": "white", "fillOpacity": 0.6, "stroke": "#808080", "strokeWidth": 1, "clip": false},
      "encoding": {"x": {"datum": 31066, "type": "quantitative"}, "x2": {"datum": 34394}, "y": {"datum": -595, "type": "quantitative"}, "y2": {"datum": -2369}}
    },
    {
      "data": {"values": [{"lines": ["Hands: 33,976", "My C Won: $1,152.37", "My C All-In Adj: $941.37", "My C / 100: $3.39", "BB/100: 12.88", "Days Played: 39", "My C / Day: $29.55"]}]},
      "mark": {"type": "text", "align": "left", "baseline": "top", "font": "Roboto", "fontSize": 11.5, "lineHeight": 20, "color": "#8a8299", "clip": false},
      "encoding": {"x": {"datum": 31200, "type": "quantitative"}, "y": {"datum": -680, "type": "quantitative"}, "text": {"field": "lines"}}
    },
    {
      "data": {"values": [{"heading": "BB Won over Hands Played"}]},
      "mark": {"type": "text", "align": "center", "baseline": "middle", "font": "DejaVu Sans", "fontSize": 11, "color": "black", "clip": false},
      "encoding": {"x": {"datum": 17757, "type": "quantitative"}, "y": {"datum": 7190, "type": "quantitative"}, "text": {"field": "heading"}}
    },
    {
      "data": {"values": [{"box": "frame"}]},
      "mark": {"type": "rect", "fillOpacity": 0, "fill": "white", "stroke": "black", "strokeWidth": 1.5, "clip": false},
      "encoding": {"x": {"datum": -848, "type": "quantitative"}, "x2": {"datum": 36105}, "y": {"datum": 7470, "type": "quantitative"}, "y2": {"datum": -3566}}
    }
  ]
}
